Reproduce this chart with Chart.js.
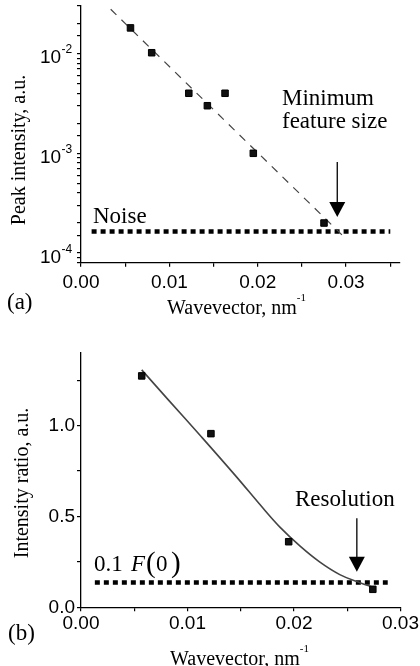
<!DOCTYPE html>
<html>
<head>
<meta charset="utf-8">
<script src="https://cdn.jsdelivr.net/npm/chart.js@4"></script>
<style>
  body { margin: 0; background: #fff; }
  canvas { display: block; }
</style>
</head>
<body>
<canvas id="panelA" width="420" height="333"></canvas>
<canvas id="panelB" width="420" height="333"></canvas>
<script>
// panel (a): peak intensity vs wavevector
var peakQ = [0.0056, 0.0080, 0.0122, 0.0143, 0.0163, 0.0195, 0.0275];
var peakI = [0.0181, 0.0102, 0.0040, 0.0030, 0.0040, 0.0010, 0.00020];
var fitQ = [0.00336, 0.02967];
var fitI = [0.0278, 0.000148];
var noiseQ = [0.0012, 0.035];
var noiseI = [0.000164, 0.000164];
var decadeExp = [-2, -3, -4];

// panel (b): intensity ratio vs wavevector
var ratioQ = [0.0057, 0.0122, 0.0195, 0.0274];
var ratioR = [1.274, 0.956, 0.361, 0.099];
var curveQ = [0.0057, 0.0082, 0.0113, 0.0145, 0.0171, 0.0187, 0.0206, 0.0224, 0.0243, 0.0262, 0.0275];
var curveR = [1.307, 1.142, 0.939, 0.725, 0.545, 0.440, 0.335, 0.250, 0.180, 0.135, 0.110];
var limitQ = [0.0013, 0.0288];
var limitR = [0.137, 0.137];

var SERIF = '"Liberation Serif", "Times New Roman", serif';
var SANS = '"Liberation Sans", Arial, sans-serif';

Chart.defaults.animation = false;
Chart.defaults.color = '#000';

function pts(xs, ys) {
  var out = [];
  for (var i = 0; i < xs.length; i++) out.push({x: xs[i], y: ys[i]});
  return out;
}

function arrowDown(ctx, x, y0, y1) {
  ctx.save();
  ctx.strokeStyle = '#000';
  ctx.fillStyle = '#000';
  ctx.lineWidth = 1.3;
  ctx.beginPath();
  ctx.moveTo(x, y0);
  ctx.lineTo(x, y1 - 14);
  ctx.stroke();
  ctx.beginPath();
  ctx.moveTo(x - 8, y1 - 15);
  ctx.lineTo(x + 8, y1 - 15);
  ctx.lineTo(x, y1);
  ctx.closePath();
  ctx.fill();
  ctx.restore();
}

function xTitle(ctx, x, y) {
  ctx.save();
  ctx.fillStyle = '#000';
  ctx.textAlign = 'left';
  ctx.textBaseline = 'alphabetic';
  ctx.font = '20px ' + SERIF;
  ctx.fillText('Wavevector, nm', x, y);
  var w = ctx.measureText('Wavevector, nm').width;
  ctx.font = '11px ' + SERIF;
  ctx.fillText('-1', x + w, y - 13);
  ctx.restore();
}

function yTitle(ctx, text, x, y) {
  ctx.save();
  ctx.fillStyle = '#000';
  ctx.translate(x, y);
  ctx.rotate(-Math.PI / 2);
  ctx.textAlign = 'center';
  ctx.textBaseline = 'middle';
  ctx.font = '20px ' + SERIF;
  ctx.fillText(text, 0, 0);
  ctx.restore();
}

function plainText(ctx, text, x, y, font) {
  ctx.save();
  ctx.fillStyle = '#000';
  ctx.textAlign = 'left';
  ctx.textBaseline = 'alphabetic';
  ctx.font = font;
  ctx.fillText(text, x, y);
  ctx.restore();
}

var decorA = {
  id: 'decorA',
  afterDraw: function(chart) {
    var ctx = chart.ctx;
    var xs = chart.scales.x, ys = chart.scales.y;
    // log tick labels 10^n
    decadeExp.forEach(function(e) {
      var py = ys.getPixelForValue(Math.pow(10, e));
      plainText(ctx, '10', 40, py + 9.7, '19px ' + SANS);
      plainText(ctx, '-' + (-e), 61.5, py - 0.5, '12px ' + SANS);
    });
    yTitle(ctx, 'Peak intensity, a.u.', 20, 150);
    xTitle(ctx, 167, 314);
    plainText(ctx, '(a)', 7, 309, '23px ' + SERIF);
    plainText(ctx, 'Noise', 93, 222.5, '23px ' + SERIF);
    plainText(ctx, 'Minimum', 282, 105, '23px ' + SERIF);
    plainText(ctx, 'feature size', 282, 128, '23px ' + SERIF);
    arrowDown(ctx, xs.getPixelForValue(0.029), ys.getPixelForValue(8.2e-4), ys.getPixelForValue(2.3e-4));
  }
};

var decorB = {
  id: 'decorB',
  afterDraw: function(chart) {
    var ctx = chart.ctx;
    var xs = chart.scales.x, ys = chart.scales.y;
    yTitle(ctx, 'Intensity ratio, a.u.', 23, 150);
    xTitle(ctx, 170, 332);
    plainText(ctx, '(b)', 8, 307, '23px ' + SERIF);
    plainText(ctx, 'Resolution', 295, 173, '23px ' + SERIF);
    // 0.1 F(0)
    plainText(ctx, '0.1', 94, 237.5, '23px ' + SERIF);
    plainText(ctx, 'F', 131, 237.5, 'italic 23px ' + SERIF);
    plainText(ctx, '(', 146, 239, '29px ' + SERIF);
    plainText(ctx, '0', 156, 237.5, '23px ' + SERIF);
    plainText(ctx, ')', 171, 239, '29px ' + SERIF);
    arrowDown(ctx, xs.getPixelForValue(0.0259), ys.getPixelForValue(0.49), ys.getPixelForValue(0.196));
  }
};

function linearX(max, pad) {
  return {
    type: 'linear', min: 0, max: max,
    border: {color: '#000', width: 1.3},
    grid: {drawOnChartArea: false, color: '#000', tickLength: 4, lineWidth: 1.2},
    ticks: {
      stepSize: 0.005, includeBounds: false, autoSkip: false, maxRotation: 0,
      padding: pad, color: '#000', font: {family: SANS, size: 19},
      callback: function(v) {
        return Math.round(v * 1000) % 10 === 0 ? v.toFixed(2) : '';
      }
    }
  };
}

new Chart(document.getElementById('panelA'), {
  type: 'scatter',
  data: {
    datasets: [
      {data: pts(peakQ, peakI), pointStyle: 'rect', pointRadius: 4.6,
       backgroundColor: '#111', borderColor: '#000', borderWidth: 1},
      {data: pts(fitQ, fitI), showLine: true, pointRadius: 0,
       borderColor: '#444', borderWidth: 1.2, borderDash: [8, 7]},
      {data: pts(noiseQ, noiseI), showLine: true, pointRadius: 0,
       borderColor: '#000', borderWidth: 4.5, borderDash: [5, 4]}
    ]
  },
  options: {
    responsive: false,
    layout: {padding: {left: 0, right: 20, top: 6, bottom: 0}},
    plugins: {legend: {display: false}, tooltip: {enabled: false}},
    scales: {
      x: Object.assign(linearX(0.0361, 5), {
        afterFit: function(s) { s.height = 70.3; }
      }),
      y: {
        type: 'logarithmic', min: 8e-5, max: 0.03,
        border: {color: '#000', width: 1.3},
        grid: {drawOnChartArea: false, color: '#000', tickLength: 4, lineWidth: 1.2},
        ticks: {display: false, autoSkip: false},
        afterFit: function(s) { s.width = 81; }
      }
    }
  },
  plugins: [decorA]
});

new Chart(document.getElementById('panelB'), {
  type: 'scatter',
  data: {
    datasets: [
      {data: pts(ratioQ, ratioR), pointStyle: 'rect', pointRadius: 4.6,
       backgroundColor: '#111', borderColor: '#000', borderWidth: 1},
      {data: pts(curveQ, curveR), showLine: true, pointRadius: 0,
       borderColor: '#444', borderWidth: 1.6, tension: 0.4},
      {data: pts(limitQ, limitR), showLine: true, pointRadius: 0,
       borderColor: '#000', borderWidth: 4.5, borderDash: [5, 4]}
    ]
  },
  options: {
    responsive: false,
    layout: {padding: {left: 0, right: 19, top: 20, bottom: 0}},
    plugins: {legend: {display: false}, tooltip: {enabled: false}},
    scales: {
      x: Object.assign(linearX(0.03, 1), {
        afterFit: function(s) { s.height = 58.7; }
      }),
      y: {
        type: 'linear', min: 0, max: 1.4,
        border: {color: '#000', width: 1.3},
        grid: {drawOnChartArea: false, color: '#000', tickLength: 4, lineWidth: 1.2},
        ticks: {
          stepSize: 0.25, includeBounds: false, autoSkip: false, padding: 2,
          color: '#000', font: {family: SANS, size: 19},
          callback: function(v) {
            return Math.round(v * 100) % 50 === 0 ? v.toFixed(1) : '';
          }
        },
        afterFit: function(s) { s.width = 81; }
      }
    }
  },
  plugins: [decorB]
});
</script>
</body>
</html>
